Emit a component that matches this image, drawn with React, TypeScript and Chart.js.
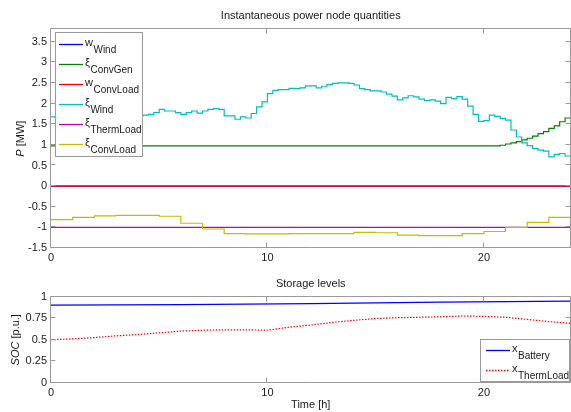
import React, { useEffect, useRef } from 'react';
import { Chart, registerables } from 'chart.js';

Chart.register(...registerables);

const FONT = '"Liberation Sans", Arial, Helvetica, sans-serif';

// ---------- data ----------
// quarter-hour stairs, xi_Wind [MW]
const windXi = [
  1.68, 1.70, 1.66, 1.64, 1.67, 1.70, 1.72, 1.69, 1.66, 1.68, 1.71, 1.74, 1.72, 1.70, 1.73, 1.72,
  1.70, 1.72, 1.74, 1.78, 1.86, 1.82, 1.82, 1.78, 1.74, 1.78, 1.82, 1.77, 1.82, 1.86, 1.88, 1.86,
  1.70, 1.70, 1.62, 1.68, 1.65, 1.76, 1.92, 2.04, 2.24, 2.32, 2.34, 2.34, 2.37, 2.36, 2.38, 2.43,
  2.43, 2.38, 2.42, 2.46, 2.49, 2.50, 2.50, 2.49, 2.45, 2.36, 2.34, 2.31, 2.31, 2.28, 2.23, 2.18,
  2.09, 2.14, 2.19, 2.16, 2.11, 2.07, 2.09, 2.06, 2.00, 2.15, 2.12, 2.17, 2.11, 1.94, 1.74, 1.57,
  1.59, 1.72, 1.69, 1.64, 1.60, 1.36, 1.19, 1.05, 0.98, 0.91, 0.87, 0.85, 0.71, 0.77, 0.79, 0.73,
];
// xi_ConvGen: change points (h) and levels [MW]
const convGenTimes = [0, 20.75, 21, 21.25, 21.5, 21.75, 22, 22.25, 22.5, 22.75, 23, 23.25, 23.5, 23.75];
const convGenValues = [0.975, 0.99, 1.02, 1.05, 1.08, 1.12, 1.16, 1.21, 1.27, 1.32, 1.40, 1.46, 1.56, 1.65];
// xi_ConvLoad: hourly stairs [MW]
const convLoadXi = [
  -0.81, -0.76, -0.72, -0.71, -0.71, -0.73, -0.90, -1.04, -1.15, -1.16, -1.16, -1.15,
  -1.15, -1.15, -1.12, -1.13, -1.19, -1.20, -1.20, -1.15, -1.10, -1.00, -0.88, -0.76,
];
const constTimes = [0, 24];
const thermLoadXi = [-1, -1];
const wWind = [0, 0];
const wConvLoad = [0, 0];

// storage levels [p.u.]
const batteryTimes = [0, 6, 12, 18, 24];
const batteryLevels = [0.9, 0.907, 0.918, 0.934, 0.947];
const thermTimes = [0, 1, 2, 3, 4, 5, 6, 7, 8, 9, 10, 11, 12, 13, 14, 15, 16, 17, 18, 19, 20, 21, 22, 23, 24];
const thermLevels = [
  0.50, 0.51, 0.525, 0.545, 0.56, 0.58, 0.60, 0.61, 0.615, 0.615, 0.61, 0.645,
  0.67, 0.70, 0.725, 0.745, 0.755, 0.76, 0.765, 0.775, 0.77, 0.76, 0.735, 0.71, 0.69,
];

const xTicks = [0, 10, 20];
const powerTicks = [-1.5, -1, -0.5, 0, 0.5, 1, 1.5, 2, 2.5, 3, 3.5];
const socTicks = [0, 0.25, 0.5, 0.75, 1];
const T_END = 24;

const C = {
  blue: '#0000ff',
  green: '#008000',
  red: '#ff0000',
  cyan: '#00bfbf',
  magenta: '#bf00bf',
  yellow: '#bfbf00',
};
const FRAME = '#9a9a9a';
const TEXT = '#1a1a1a';

function stairs(times: number[], values: number[], end: number) {
  const pts = times.map((t, i) => ({ x: t, y: values[i] }));
  pts.push({ x: end, y: values[values.length - 1] });
  return pts;
}
function line(times: number[], values: number[]) {
  return times.map((t, i) => ({ x: t, y: values[i] }));
}

type Entry = { main: string; sub: string; color: string; dash?: number[] };
type LegendCfg = { x: number; y: number; w: number; h: number; firstY: number; dy: number; l0: number; l1: number; tx: number; entries: Entry[] };
type FrameCfg = {
  title: string; titleY: number;
  yLabel: [string, string]; yLabelX: number;
  xLabel?: string; xLabelY?: number;
  xTickVals: number[]; yTickVals: number[];
  legend: LegendCfg;
};

function framePlugin(cfg: FrameCfg) {
  return {
    id: 'matlabFrame',
    afterDraw(chart: any) {
      const ctx: CanvasRenderingContext2D = chart.ctx;
      const a = chart.chartArea;
      const xs = chart.scales.x;
      const ys = chart.scales.y;
      const L = Math.round(a.left) - 0.5, R = Math.round(a.right) - 0.5;
      const T = Math.round(a.top) - 0.5, B = Math.round(a.bottom) - 0.5;
      ctx.save();
      ctx.strokeStyle = FRAME;
      ctx.lineWidth = 1;
      ctx.beginPath();
      ctx.rect(L, T, R - L, B - T);
      const tl = 5;
      cfg.xTickVals.forEach((v) => {
        const px = Math.round(xs.getPixelForValue(v)) - 0.5;
        ctx.moveTo(px, B); ctx.lineTo(px, B - tl);
        ctx.moveTo(px, T); ctx.lineTo(px, T + tl);
      });
      cfg.yTickVals.forEach((v) => {
        const py = Math.round(ys.getPixelForValue(v)) - 0.5;
        ctx.moveTo(L, py); ctx.lineTo(L + tl, py);
        ctx.moveTo(R, py); ctx.lineTo(R - tl, py);
      });
      ctx.stroke();

      const cx = (a.left + a.right) / 2;
      ctx.fillStyle = TEXT;
      ctx.textAlign = 'center';
      ctx.textBaseline = 'middle';
      ctx.font = `11px ${FONT}`;
      ctx.fillText(cfg.title, cx, cfg.titleY);
      if (cfg.xLabel) ctx.fillText(cfg.xLabel, cx, cfg.xLabelY as number);

      // y label with italic symbol
      const cy = (a.top + a.bottom) / 2;
      ctx.save();
      ctx.translate(cfg.yLabelX, cy);
      ctx.rotate(-Math.PI / 2);
      ctx.font = `italic 11px ${FONT}`;
      const w1 = ctx.measureText(cfg.yLabel[0]).width;
      ctx.font = `11px ${FONT}`;
      const w2 = ctx.measureText(cfg.yLabel[1]).width;
      const start = -(w1 + w2) / 2;
      ctx.textAlign = 'left';
      ctx.font = `italic 11px ${FONT}`;
      ctx.fillText(cfg.yLabel[0], start, 0);
      ctx.font = `11px ${FONT}`;
      ctx.fillText(cfg.yLabel[1], start + w1, 0);
      ctx.restore();

      // legend
      const lg = cfg.legend;
      ctx.fillStyle = '#ffffff';
      ctx.fillRect(lg.x, lg.y, lg.w, lg.h);
      ctx.strokeStyle = FRAME;
      ctx.strokeRect(lg.x + 0.5, lg.y + 0.5, lg.w, lg.h);
      lg.entries.forEach((e, i) => {
        const y = lg.firstY + i * lg.dy;
        ctx.strokeStyle = e.color;
        ctx.lineWidth = 1.3;
        ctx.setLineDash(e.dash || []);
        ctx.beginPath();
        ctx.moveTo(lg.l0, y);
        ctx.lineTo(lg.l1, y);
        ctx.stroke();
        ctx.setLineDash([]);
        ctx.fillStyle = TEXT;
        ctx.textAlign = 'left';
        ctx.textBaseline = 'alphabetic';
        ctx.font = `11px ${FONT}`;
        ctx.fillText(e.main, lg.tx, y + 1.5);
        const mw = ctx.measureText(e.main).width;
        ctx.font = `10px ${FONT}`;
        ctx.fillText(e.sub, lg.tx + mw + 0.5, y + 8);
      });
      ctx.restore();
    },
  };
}

function axes(min: number, max: number, yTicks: number[], xHeight: number) {
  return {
    x: {
      type: 'linear' as const,
      min: 0,
      max: T_END,
      afterBuildTicks: (s: any) => { s.ticks = xTicks.map((v) => ({ value: v })); },
      afterFit: (s: any) => { s.height = xHeight; },
      grid: { display: false, drawTicks: false },
      border: { display: false },
      ticks: { padding: 3, color: TEXT, font: { family: FONT, size: 11 }, maxRotation: 0, callback: (v: any) => String(v) },
    },
    y: {
      type: 'linear' as const,
      min,
      max,
      afterBuildTicks: (s: any) => { s.ticks = yTicks.map((v) => ({ value: v })); },
      afterFit: (s: any) => { s.width = 51; },
      grid: { display: false, drawTicks: false },
      border: { display: false },
      ticks: { padding: 4, color: TEXT, font: { family: FONT, size: 11 }, callback: (v: any) => String(v) },
    },
  };
}

function ds(label: string, data: any[], color: string, stepped: any, width = 1.2, dash: number[] = []) {
  return {
    label, data, borderColor: color, backgroundColor: color, borderWidth: width, borderDash: dash,
    pointRadius: 0, stepped, tension: 0, fill: false,
  };
}
// later series are painted on top, as in the original plot
function layered(list: any[]) {
  return list.map((d, i) => ({ ...d, order: list.length - i }));
}

export default function App() {
  const topRef = useRef<HTMLCanvasElement>(null);
  const botRef = useRef<HTMLCanvasElement>(null);

  useEffect(() => {
    document.body.style.margin = '0';
    const quarterTimes = windXi.map((_, k) => k * 0.25);
    const hourTimes = convLoadXi.map((_, k) => k);

    const top = new Chart(topRef.current as HTMLCanvasElement, {
      type: 'line',
      data: {
        datasets: layered([
          ds('w_Wind', line(constTimes, wWind), C.blue, false),
          ds('ξ_ConvGen', stairs(convGenTimes, convGenValues, T_END), C.green, 'before'),
          ds('w_ConvLoad', line(constTimes, wConvLoad), C.red, false),
          ds('ξ_Wind', stairs(quarterTimes, windXi, T_END), C.cyan, 'before'),
          ds('ξ_ThermLoad', line(constTimes, thermLoadXi), C.magenta, false),
          ds('ξ_ConvLoad', stairs(hourTimes, convLoadXi, T_END), C.yellow, 'before'),
        ]),
      },
      options: {
        responsive: false,
        animation: false,
        events: [],
        layout: { padding: { top: 29.3, right: 0.5, left: 0, bottom: 0 } },
        plugins: { legend: { display: false }, title: { display: false }, tooltip: { enabled: false } },
        scales: axes(-1.5, 3.8, powerTicks, 22) as any,
      },
      plugins: [framePlugin({
        title: 'Instantaneous power node quantities', titleY: 16,
        yLabel: ['P', ' [MW]'], yLabelX: 21,
        xTickVals: xTicks, yTickVals: powerTicks,
        legend: {
          x: 55, y: 32, w: 87, h: 124, firstY: 44.5, dy: 20, l0: 59, l1: 83, tx: 85,
          entries: [
            { main: 'w', sub: 'Wind', color: C.blue },
            { main: 'ξ', sub: 'ConvGen', color: C.green },
            { main: 'w', sub: 'ConvLoad', color: C.red },
            { main: 'ξ', sub: 'Wind', color: C.cyan },
            { main: 'ξ', sub: 'ThermLoad', color: C.magenta },
            { main: 'ξ', sub: 'ConvLoad', color: C.yellow },
          ],
        },
      })],
    });

    const OFF = 270;
    const bot = new Chart(botRef.current as HTMLCanvasElement, {
      type: 'line',
      data: {
        datasets: layered([
          ds('x_Battery', line(batteryTimes, batteryLevels), C.blue, false),
          ds('x_ThermLoad', line(thermTimes, thermLevels), C.red, false, 1.2, [1.5, 1.5]),
        ]),
      },
      options: {
        responsive: false,
        animation: false,
        events: [],
        layout: { padding: { top: 296.5 - OFF, right: 0.5, left: 0, bottom: 0 } },
        plugins: { legend: { display: false }, title: { display: false }, tooltip: { enabled: false } },
        scales: axes(0, 1, socTicks, 142 - (383 - OFF)) as any,
      },
      plugins: [framePlugin({
        title: 'Storage levels', titleY: 284 - OFF,
        yLabel: ['SOC', ' [p.u.]'], yLabelX: 16,
        xLabel: 'Time [h]', xLabelY: 405 - OFF,
        xTickVals: xTicks, yTickVals: socTicks,
        legend: {
          x: 480, y: 339 - OFF, w: 89, h: 42, firstY: 350.5 - OFF, dy: 20, l0: 486, l1: 510, tx: 512,
          entries: [
            { main: 'x', sub: 'Battery', color: C.blue },
            { main: 'x', sub: 'ThermLoad', color: C.red, dash: [1.5, 1.5] },
          ],
        },
      })],
    });

    return () => { top.destroy(); bot.destroy(); };
  }, []);

  return (
    <div style={{ position: 'absolute', left: 0, top: 0, width: 571, height: 412, background: '#fff' }}>
      <canvas ref={topRef} width={571} height={270} style={{ position: 'absolute', left: 0, top: 0, width: 571, height: 270 }} />
      <canvas ref={botRef} width={571} height={142} style={{ position: 'absolute', left: 0, top: 270, width: 571, height: 142 }} />
    </div>
  );
}
